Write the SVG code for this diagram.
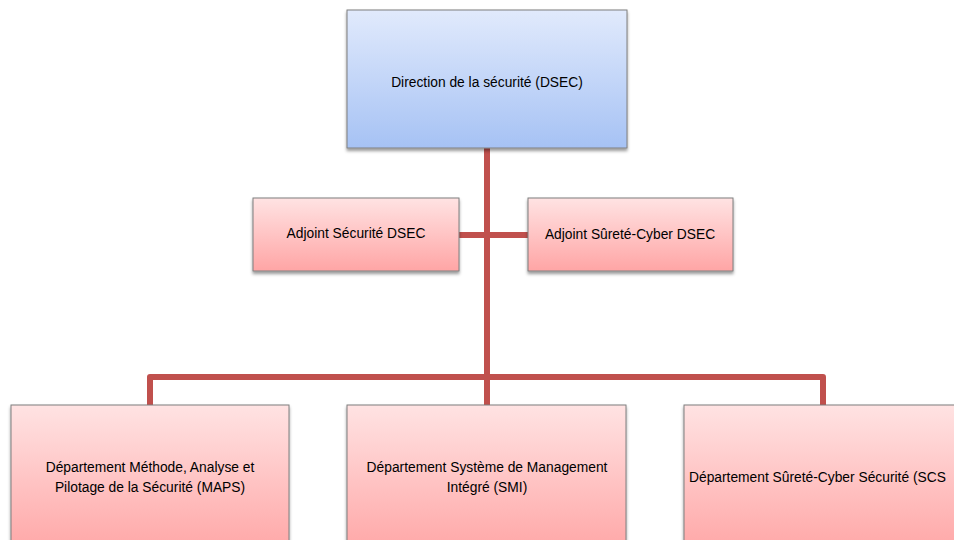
<svg xmlns="http://www.w3.org/2000/svg" width="954" height="540" viewBox="0 0 954 540">
<defs>
<linearGradient id="gBlue" x1="0" y1="0" x2="0" y2="1">
<stop offset="0" stop-color="#E1EAFC"/>
<stop offset="1" stop-color="#A6C2F4"/>
</linearGradient>
<linearGradient id="gPink" x1="0" y1="0" x2="0" y2="1">
<stop offset="0" stop-color="#FFE3E3"/>
<stop offset="1" stop-color="#FFA5A5"/>
</linearGradient>
<filter id="sh" x="-5%" y="-5%" width="110%" height="120%">
<feDropShadow dx="0" dy="2.5" stdDeviation="1.8" flood-color="#000" flood-opacity="0.4"/>
</filter>
</defs>
<style>
.box{stroke:#7F7F7F;stroke-width:1;filter:url(#sh)}
.blue{fill:url(#gBlue)}
.pink{fill:url(#gPink)}
.lbl{font-family:"Liberation Sans",Arial,sans-serif;font-size:13.8px;fill:#000;text-anchor:middle;dominant-baseline:central}
.conn{stroke:#C0504D;stroke-width:6;fill:none;stroke-linejoin:round}
</style>
<rect width="954" height="540" fill="#FFFFFF"/>
<g id="connectors">
<path class="conn" d="M487,148 V405"/>
<path class="conn" d="M459,235 H528"/>
<path class="conn" d="M150,405 V377 H823 V405"/>
</g>
<g id="dsec">
<rect class="box blue" x="347" y="10" width="280" height="138"/>
<text class="lbl" x="487" y="82">Direction de la sécurité (DSEC)</text>
</g>
<g id="adjoint-securite">
<rect class="box pink" x="253" y="198" width="206" height="73"/>
<text class="lbl" x="356" y="233">Adjoint Sécurité DSEC</text>
</g>
<g id="adjoint-surete">
<rect class="box pink" x="528" y="198" width="205" height="73"/>
<text class="lbl" x="630" y="234">Adjoint Sûreté-Cyber DSEC</text>
</g>
<g id="maps">
<rect class="box pink" x="11" y="405" width="278" height="150"/>
<text class="lbl" x="150" y="467">Département Méthode, Analyse et</text>
<text class="lbl" x="150" y="487">Pilotage de la Sécurité (MAPS)</text>
</g>
<g id="smi">
<rect class="box pink" x="347" y="405" width="279" height="150"/>
<text class="lbl" x="487" y="467">Département Système de Management</text>
<text class="lbl" x="487" y="487">Intégré (SMI)</text>
</g>
<g id="scs">
<rect class="box pink" x="684" y="405" width="290" height="150"/>
<text class="lbl" x="689" y="477" style="text-anchor:start">Département Sûreté-Cyber Sécurité (SCS</text>
</g>
</svg>
